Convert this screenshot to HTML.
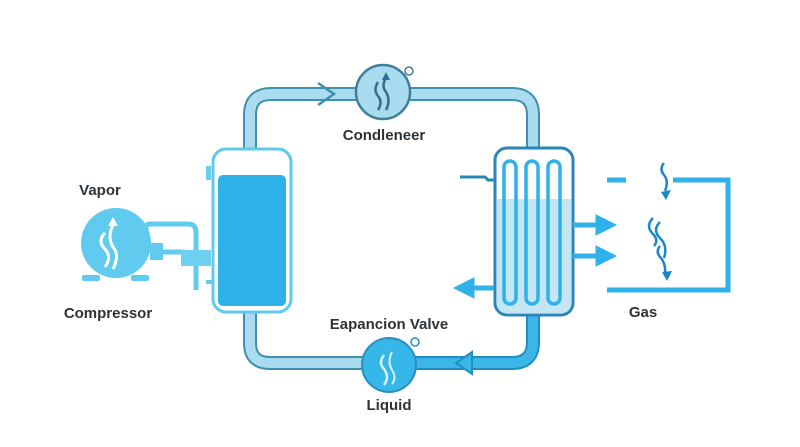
<!DOCTYPE html>
<html><head><meta charset="utf-8"><style>
html,body{margin:0;padding:0;background:#fff;}
svg{display:block}
text{font-family:"Liberation Sans",sans-serif;font-weight:bold;fill:#2e3338;}
</style></head><body>
<svg width="800" height="447" viewBox="0 0 800 447" xmlns="http://www.w3.org/2000/svg">
<!-- loop pipe -->
<path d="M250 150 V115 Q250 94 271 94 H512 Q533 94 533 115 V150" fill="none" stroke="#3f8fb0" stroke-width="14"/>
<path d="M250 150 V115 Q250 94 271 94 H512 Q533 94 533 115 V150" fill="none" stroke="#a9dcef" stroke-width="10"/>
<path d="M250 310 V343 Q250 363 270 363 H390" fill="none" stroke="#3f8fb0" stroke-width="14"/>
<path d="M250 310 V343 Q250 363 270 363 H390" fill="none" stroke="#a9dcef" stroke-width="10"/>
<path d="M390 363 H512 Q533 363 533 342 V312" fill="none" stroke="#1f8ec0" stroke-width="14"/>
<path d="M390 363 H512 Q533 363 533 342 V312" fill="none" stroke="#3cb6e6" stroke-width="10"/>
<!-- top arrow -->
<path d="M318 83 L334 94 L318 105" fill="none" stroke="#3f8fb0" stroke-width="2.5"/>
<!-- bottom arrow -->
<path d="M472 352 L456 363 L472 374 Z" fill="#3cb6e6" stroke="#1f8ec0" stroke-width="2"/>
<!-- condenser -->
<circle cx="383" cy="92" r="27" fill="#a9dcef" stroke="#3f7f9a" stroke-width="2.5"/>
<circle cx="409" cy="71" r="4" fill="#fff" stroke="#3f7f9a" stroke-width="1.5"/>
<path d="M378 82 q-5 8 0 14 q5 6 0 14" fill="none" stroke="#2f6f8c" stroke-width="2.5"/>
<path d="M386 78 q-5 8 0 14 q5 8 0 18" fill="none" stroke="#2f6f8c" stroke-width="2.5"/>
<path d="M382 80 l4 -8 l4 8" fill="#2f6f8c"/>
<text x="384" y="140" font-size="15" text-anchor="middle">Condleneer</text>
<!-- tank -->
<rect x="213" y="149" width="78" height="163" rx="13" fill="#fff" stroke="#62c9ee" stroke-width="3"/>
<rect x="218" y="175" width="68" height="131" rx="5" fill="#2fb1e9"/>
<rect x="206" y="166" width="5" height="14" fill="#6dcdef"/>
<!-- compressor -->
<circle cx="116" cy="243" r="35" fill="#60cbef"/>
<rect x="82" y="275" width="18" height="6" rx="2" fill="#60cbef"/>
<rect x="131" y="275" width="18" height="6" rx="2" fill="#60cbef"/>
<path d="M105 233 q-8 8 0 16 q7 8 0 18" fill="none" stroke="#fff" stroke-width="3"/>
<path d="M113 225 q-6 12 0 22 q7 8 0 22" fill="none" stroke="#fff" stroke-width="3"/>
<path d="M108 226 l5 -9 l5 9 z" fill="#fff"/>
<path d="M146 232 V228 Q146 224 150 224 H188 Q196 224 196 232 V290" fill="none" stroke="#60cbef" stroke-width="5"/>
<rect x="150" y="243" width="13" height="17" fill="#60cbef"/>
<path d="M163 252 H185" stroke="#60cbef" stroke-width="5"/>
<rect x="181" y="250" width="30" height="16" fill="#6dd0f0"/>
<path d="M206 282 H212" stroke="#60cbef" stroke-width="4"/>
<text x="100" y="195" font-size="15" text-anchor="middle">Vapor</text>
<text x="108" y="318" font-size="15" text-anchor="middle">Compressor</text>
<!-- expansion valve -->
<circle cx="389" cy="365" r="27" fill="#36b6e9" stroke="#2a8fc0" stroke-width="2"/>
<circle cx="415" cy="342" r="4" fill="#fff" stroke="#2a8fc0" stroke-width="1.5"/>
<path d="M384 355 q-6 8 0 14 q6 8 0 16" fill="none" stroke="#d8f3ff" stroke-width="2.5"/>
<path d="M392 352 q-5 10 0 18 q5 8 0 14" fill="none" stroke="#d8f3ff" stroke-width="2"/>
<text x="389" y="329" font-size="15" text-anchor="middle">Eapancion Valve</text>
<text x="389" y="410" font-size="15" text-anchor="middle">Liquid</text>
<!-- exchanger -->
<rect x="495" y="148" width="78" height="167" rx="12" fill="#fff" stroke="#2a86b8" stroke-width="3"/>
<path d="M497 199 H571 V303 Q571 313 561 313 H507 Q497 313 497 303 Z" fill="#c4e6f4"/>
<g fill="none" stroke="#2fb1e9" stroke-width="3.5">
<rect x="504" y="161" width="12" height="143" rx="6"/>
<rect x="526" y="161" width="12" height="143" rx="6"/>
<rect x="548" y="161" width="12" height="143" rx="6"/>
</g>
<path d="M460 177 H485 L488 180 H495" fill="none" stroke="#2a86b8" stroke-width="3"/>
<!-- arrows -->
<g fill="#2fb1e9" stroke="#2fb1e9">
<path d="M573 225 H600" stroke-width="5"/><path d="M596 215 L616 225 L596 235 Z"/>
<path d="M573 256 H600" stroke-width="5"/><path d="M596 246 L616 256 L596 266 Z"/>
<path d="M494 288 H470" stroke-width="5"/><path d="M474 278 L454 288 L474 298 Z"/>
</g>
<!-- gas bracket -->
<g fill="none" stroke="#2fb1e9" stroke-width="5">
<path d="M607 180 H626"/>
<path d="M673 180 H728 V290 H607"/>
</g>
<g fill="none" stroke="#1a88c8" stroke-width="2.5">
<path d="M664 163 q-5 6 0 12 q5 6 1 16"/>
<path d="M653 218 q-8 8 0 16 q6 6 1 12"/>
<path d="M660 222 q-8 8 0 16 q8 8 4 20"/>
<path d="M660 246 q-5 6 1 12 q5 6 4 16"/>
</g>
<path d="M661 192 l10 -2 l-5 10 z" fill="#1a88c8"/>
<path d="M662 272 l10 -1 l-5 10 z" fill="#1a88c8"/>
<text x="643" y="317" font-size="15" text-anchor="middle">Gas</text>
</svg>
</body></html>
